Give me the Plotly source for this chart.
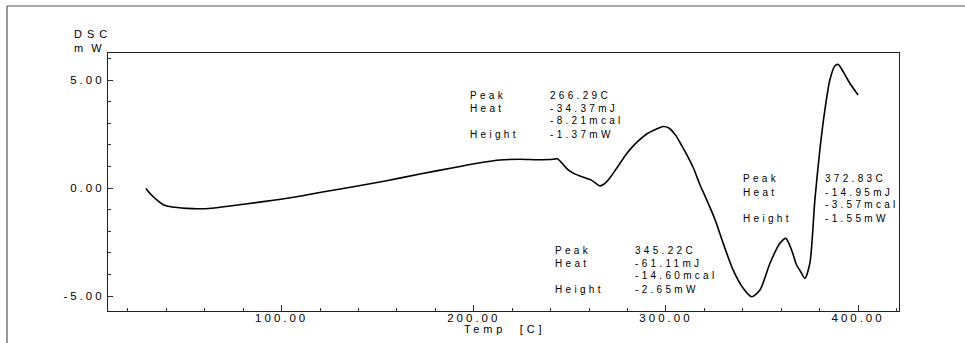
import plotly.graph_objects as go

# ---- data ----
temp = [29.3, 32, 35, 38.4, 43, 50.6, 56, 65, 73.1, 90.4, 107.8, 122, 137.3, 154.6,
        172, 189.3, 203.2, 213.6, 224, 233, 241.3, 243.5, 246.6, 249, 252, 257, 261,
        265.6, 268, 270.9, 275, 279.6, 283, 286.5, 290, 293.4, 298.6, 301.5, 305,
        308, 310.8, 314.2, 317.7, 321, 325.5, 329.8, 335, 340.2, 344.6, 348.9,
        354.1, 359.3, 362.4, 365.4, 368, 370, 372.3, 374.9, 377.5, 380.1, 382.7,
        385.3, 387.9, 389.7, 392.3, 395.7, 400]
dsc = [-0.02, -0.3, -0.55, -0.77, -0.88, -0.94, -0.96, -0.92, -0.83, -0.63, -0.40,
       -0.17, 0.06, 0.34, 0.65, 0.94, 1.17, 1.30, 1.33, 1.31, 1.33, 1.36, 1.08, 0.85,
       0.68, 0.50, 0.38, 0.10, 0.20, 0.48, 1.0, 1.6, 1.95, 2.25, 2.5, 2.66, 2.85,
       2.78, 2.45, 2.0, 1.55, 0.95, 0.15, -0.5, -1.45, -2.56, -3.80, -4.64, -5.03,
       -4.72, -3.49, -2.56, -2.33, -2.87, -3.56, -3.85, -4.18, -3.49, -0.56, 1.76,
       3.61, 5.0, 5.65, 5.72, 5.38, 4.85, 4.31]

x_ticks = [100, 200, 300, 400]
y_ticks = [-5, 0, 5]

peak_labels = ["Peak", "Heat", "", "Height"]
peak1_values = ["266.29C", "-34.37mJ", "-8.21mcal", "-1.37mW"]
peak2_values = ["345.22C", "-61.11mJ", "-14.60mcal", "-2.65mW"]
peak3_values = ["372.83C", "-14.95mJ", "-3.57mcal", "-1.55mW"]

W, H = 965, 343
L, R, T, B = 108, 66, 53, 32
PW, PH = W - L - R, H - T - B
XR = [9.6, 421.3]
YR = [-5.69, 6.25]

FONT = "Liberation Sans, Arial, sans-serif"

def sp(s, ls=3.3):
    return f'<span style="letter-spacing:{ls}px">{s}</span>'

fig = go.Figure()
fig.add_trace(go.Scatter(x=temp, y=dsc, mode="lines",
                         line=dict(color="black", width=1.6, shape="spline", smoothing=0.7),
                         hoverinfo="skip", showlegend=False))

def px2x(px):
    return XR[0] + (px - L) / PW * (XR[1] - XR[0])

def py2y(py):
    return YR[1] - (py - T) / PH * (YR[1] - YR[0])

annots = []
blocks = [(468, 548, 95, peak1_values), (553, 633, 250, peak2_values),
          (741, 822.7, 178.5, peak3_values)]
offs = [0, 13.8, 25.8, 39.5]
for lx, vx, ty, vals in blocks:
    for i in range(4):
        yy = py2y(ty + offs[i])
        if peak_labels[i]:
            annots.append(dict(x=px2x(lx), y=yy, xref="x", yref="y", text=sp(peak_labels[i]),
                               showarrow=False, xanchor="left", yanchor="middle",
                               font=dict(family=FONT, size=10, color="black")))
        annots.append(dict(x=px2x(vx), y=yy, xref="x", yref="y", text=sp(vals[i]),
                           showarrow=False, xanchor="left", yanchor="middle",
                           font=dict(family=FONT, size=10, color="black")))

# y-axis title (two lines)
annots.append(dict(x=(72 - L) / PW, y=(H - B - 41.5) / PH, xref="paper", yref="paper",
                   text=sp("DSC", 5) + "<br>" + sp("mW", 8), align="left",
                   showarrow=False, xanchor="left", yanchor="middle",
                   font=dict(family=FONT, size=11, color="black")))
# x-axis title
annots.append(dict(x=(504 - L) / PW, y=(H - B - 328.5) / PH, xref="paper", yref="paper",
                   text=sp("Temp\u00a0 [C]", 3.8), showarrow=False, xanchor="center",
                   yanchor="middle", font=dict(family=FONT, size=11, color="black")))

shapes = [
    dict(type="line", xref="paper", yref="paper", x0=(7 - L) / PW, x1=(W - L) / PW,
         y0=(H - B - 6) / PH, y1=(H - B - 6) / PH, line=dict(color="#555", width=1.2)),
    dict(type="line", xref="paper", yref="paper", x0=(7 - L) / PW, x1=(7 - L) / PW,
         y0=(H - B - 6) / PH, y1=(H - B - H) / PH, line=dict(color="#555", width=1.2)),
]

fig.update_layout(
    width=W, height=H, margin=dict(l=L, r=R, t=T, b=B, autoexpand=False),
    paper_bgcolor="white", plot_bgcolor="white",
    annotations=annots, shapes=shapes,
    xaxis=dict(range=XR, showgrid=False, zeroline=False, showline=True, linecolor="#222",
               linewidth=1.2, mirror=True, ticks="inside", ticklen=6, tickcolor="#333",
               tickvals=x_ticks, ticktext=[sp(f"{v:.2f}", 3) for v in x_ticks],
               ticklabelstandoff=-4,
               tickfont=dict(family=FONT, size=11.5, color="black"),
               minor=dict(dtick=20, tick0=0, ticks="inside", ticklen=3, tickcolor="#333")),
    yaxis=dict(range=YR, showgrid=False, zeroline=False, showline=True, linecolor="#222",
               linewidth=1.2, mirror=True, ticks="inside", ticklen=5, tickcolor="#333",
               tickvals=y_ticks, ticktext=[sp(f"{v:.2f}", 3) for v in y_ticks],
               tickfont=dict(family=FONT, size=11.5, color="black"),
               minor=dict(dtick=1, tick0=0, ticks="inside", ticklen=3, tickcolor="#333")),
)

fig.write_html("out.html")
